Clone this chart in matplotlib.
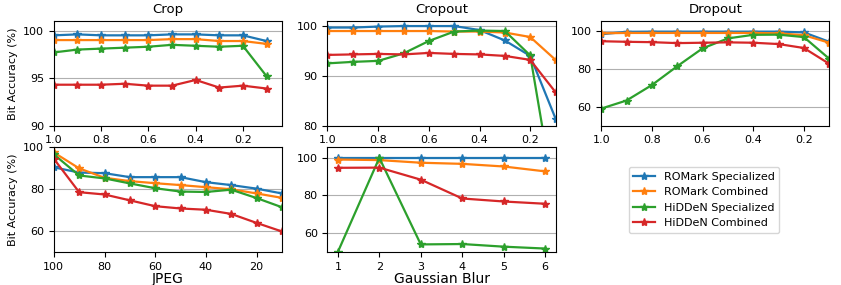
import matplotlib
matplotlib.use("Agg")
import matplotlib.pyplot as plt

# x values
ratios = [1.0, 0.9, 0.8, 0.7, 0.6, 0.5, 0.4, 0.3, 0.2, 0.1]
jpeg_q = [100, 90, 80, 70, 60, 50, 40, 30, 20, 10]
blur_k = [1, 2, 3, 4, 5, 6]

labels = ["ROMark Specialized", "ROMark Combined", "HiDDeN Specialized", "HiDDeN Combined"]

# Crop
crop_rs = [99.5, 99.6, 99.5, 99.5, 99.5, 99.6, 99.6, 99.5, 99.5, 98.9]
crop_rc = [99.0, 99.0, 99.0, 99.0, 99.0, 99.1, 99.1, 98.9, 98.9, 98.6]
crop_hs = [97.7, 98.0, 98.1, 98.2, 98.3, 98.5, 98.4, 98.3, 98.4, 95.2]
crop_hc = [94.3, 94.3, 94.3, 94.4, 94.2, 94.2, 94.8, 94.0, 94.2, 93.9]

# Cropout
cropout_rs = [99.7, 99.7, 99.9, 100.0, 100.0, 100.0, 99.2, 97.1, 94.0, 81.4]
cropout_rc = [99.0, 99.0, 99.0, 99.0, 99.0, 98.9, 98.9, 98.7, 97.8, 93.2]
cropout_hs = [92.5, 92.8, 93.0, 94.5, 97.0, 98.9, 99.1, 99.0, 94.1, 64.0]
cropout_hc = [94.2, 94.3, 94.4, 94.3, 94.6, 94.4, 94.3, 94.0, 93.2, 86.7]

# Dropout
dropout_rs = [98.5, 99.8, 99.9, 99.9, 99.9, 99.9, 99.9, 99.9, 99.5, 94.5]
dropout_rc = [99.0, 99.2, 99.2, 99.2, 99.2, 99.2, 99.2, 99.0, 98.0, 94.0]
dropout_hs = [59.0, 63.3, 71.5, 81.5, 91.0, 96.3, 98.2, 98.3, 97.0, 85.5]
dropout_hc = [94.8, 94.5, 94.3, 93.8, 94.0, 94.2, 94.0, 93.3, 91.2, 82.8]

# JPEG
jpeg_rs = [90.5, 88.0, 87.7, 85.8, 85.8, 85.8, 83.4, 82.0, 80.3, 78.0]
jpeg_rc = [97.6, 90.0, 85.5, 83.9, 82.9, 82.0, 81.0, 80.0, 78.0, 75.9]
jpeg_hs = [96.7, 86.6, 85.2, 82.8, 80.5, 78.9, 78.7, 79.8, 75.8, 71.4]
jpeg_hc = [94.6, 78.6, 77.5, 74.7, 71.9, 70.8, 70.2, 68.2, 63.9, 59.8]

# Gaussian blur
blur_rs = [100.0, 100.0, 100.0, 100.0, 100.0, 100.0]
blur_rc = [99.1, 98.8, 97.4, 96.8, 95.4, 92.8]
blur_hs = [50.0, 100.0, 54.0, 54.2, 52.8, 51.8]
blur_hc = [94.7, 94.8, 88.4, 78.4, 76.8, 75.6]

colors = ["#1f77b4", "#ff7f0e", "#2ca02c", "#d62728"]

plt.rcParams["font.size"] = 8

fig, axes = plt.subplots(2, 3, figsize=(8.41, 2.85), dpi=100)
fig.subplots_adjust(left=0.064, right=0.986, top=0.926, bottom=0.116,
                    wspace=0.2, hspace=0.21)


def draw(ax, x, series, xlim, ylim, yticks, xticks=None):
    for ys, c, lab in zip(series, colors, labels):
        ax.plot(x, ys, color=c, marker="*", markersize=6, linewidth=1.6, label=lab)
    ax.set_xlim(*xlim)
    ax.set_ylim(*ylim)
    ax.set_yticks(yticks)
    if xticks is not None:
        ax.set_xticks(xticks)
    ax.grid(True, axis="y", color="#b0b0b0", linewidth=0.8)


rt = [1.0, 0.8, 0.6, 0.4, 0.2]
draw(axes[0, 0], ratios, [crop_rs, crop_rc, crop_hs, crop_hc],
     (1.0, 0.035), (90, 101), [90, 95, 100], rt)
axes[0, 0].set_title("Crop", fontsize=9.5)
axes[0, 0].set_ylabel("Bit Accuracy (%)")

draw(axes[0, 1], ratios, [cropout_rs, cropout_rc, cropout_hs, cropout_hc],
     (1.0, 0.1), (80, 101), [80, 90, 100], rt)
axes[0, 1].set_title("Cropout", fontsize=9.5)

draw(axes[0, 2], ratios, [dropout_rs, dropout_rc, dropout_hs, dropout_hc],
     (1.0, 0.1), (50, 105.5), [60, 80, 100], rt)
axes[0, 2].set_title("Dropout", fontsize=9.5)

draw(axes[1, 0], jpeg_q, [jpeg_rs, jpeg_rc, jpeg_hs, jpeg_hc],
     (100, 10), (50, 100), [60, 80, 100], [100, 80, 60, 40, 20])
axes[1, 0].set_xlabel("JPEG", fontsize=10, labelpad=0)
axes[1, 0].set_ylabel("Bit Accuracy (%)")

draw(axes[1, 1], blur_k, [blur_rs, blur_rc, blur_hs, blur_hc],
     (0.75, 6.25), (50, 105.5), [60, 80, 100], blur_k)
axes[1, 1].set_xlabel("Gaussian Blur", fontsize=10, labelpad=0)

axes[1, 2].axis("off")
handles, labs = axes[1, 1].get_legend_handles_labels()
fig.legend(handles, labs, loc="center", bbox_to_anchor=(704 / 841, 1 - 200 / 285),
           fontsize=8)

plt.savefig("out.png", dpi=100)
